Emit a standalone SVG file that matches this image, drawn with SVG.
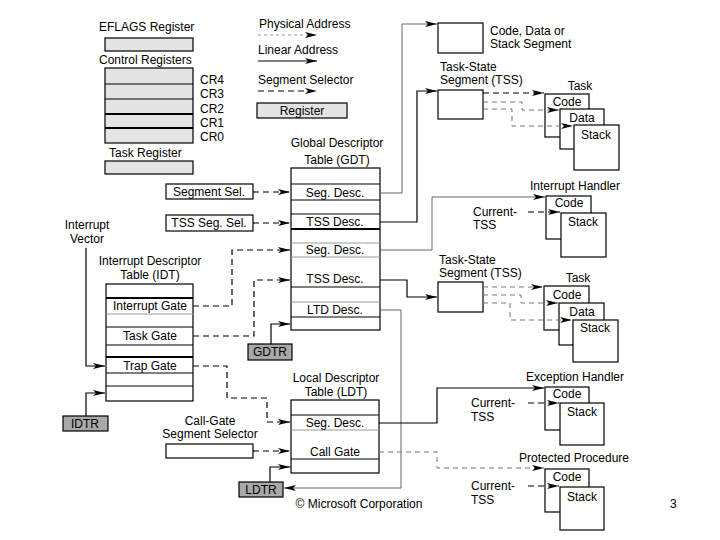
<svg xmlns="http://www.w3.org/2000/svg" width="720" height="540" viewBox="0 0 720 540">
<style>
text{font-family:"Liberation Sans",Arial,sans-serif;font-size:12px;fill:#000}
.c{text-anchor:middle}
.box{fill:#fff;stroke:#000;stroke-width:1.2}
.reg{fill:#e4e4e4;stroke:#000;stroke-width:1.2}
.dreg{fill:#a8a8a8;stroke:#000;stroke-width:1.2}
.ln{stroke:#000;stroke-width:1}
.gl{stroke:#999;stroke-width:1}
.thick{stroke:#000;stroke-width:2}
.cn{fill:none;stroke:#000;stroke-width:1.2;marker-end:url(#ah)}
.cg{fill:none;stroke:#666;stroke-width:1;marker-end:url(#ah)}
.ds{fill:none;stroke:#000;stroke-width:1.2;stroke-dasharray:6,4;marker-end:url(#ah)}
.dg{fill:none;stroke:#777;stroke-width:1;stroke-dasharray:5,4;marker-end:url(#ah)}
.dt{fill:none;stroke:#999;stroke-width:1;stroke-dasharray:3,3;marker-end:url(#ah)}
</style>
<defs>
<marker id="ah" viewBox="0 0 12 6" refX="12" refY="3" markerWidth="12" markerHeight="6" markerUnits="userSpaceOnUse" orient="auto">
<path d="M0,0 L12,3 L0,6 L3,3 Z" fill="#000"/>
</marker>
</defs>
<rect width="720" height="540" fill="#fff"/>

<g id="eflags">
<text x="99" y="31">EFLAGS Register</text>
<rect class="reg" x="105" y="38" width="88" height="13"/>
</g>
<g id="control-registers">
<text x="99" y="64">Control Registers</text>
<rect class="reg" x="105" y="68" width="88" height="75"/>
<line class="ln" x1="105" y1="84" x2="193" y2="84"/>
<line class="ln" x1="105" y1="99" x2="193" y2="99"/>
<line class="thick" x1="105" y1="114" x2="193" y2="114"/>
<line class="thick" x1="105" y1="128" x2="193" y2="128"/>
<text x="200" y="84">CR4</text>
<text x="200" y="98">CR3</text>
<text x="200" y="113">CR2</text>
<text x="200" y="127">CR1</text>
<text x="200" y="141">CR0</text>
</g>
<g id="task-register">
<text x="109" y="157">Task Register</text>
<rect class="reg" x="105" y="161" width="88" height="13"/>
</g>

<g id="legend">
<text x="259" y="28">Physical Address</text>
<text x="258" y="54">Linear Address</text>
<text x="258" y="84">Segment Selector</text>
<rect class="reg" x="257" y="103" width="90" height="15"/>
<text class="c" x="302" y="115">Register</text>
</g>

<g id="gdt">
<text class="c" x="337" y="147">Global Descriptor</text>
<text class="c" x="337" y="164">Table (GDT)</text>
<rect class="box" x="291" y="168" width="89" height="162"/>
<line class="ln" x1="291" y1="184" x2="380" y2="184"/>
<line class="ln" x1="291" y1="200" x2="380" y2="200"/>
<line class="ln" x1="291" y1="214" x2="380" y2="214"/>
<line class="thick" x1="291" y1="229" x2="380" y2="229"/>
<line class="gl" x1="291" y1="243" x2="380" y2="243"/>
<line class="gl" x1="291" y1="257" x2="380" y2="257"/>
<line class="ln" x1="291" y1="287" x2="380" y2="287"/>
<line class="gl" x1="291" y1="302" x2="380" y2="302"/>
<line class="ln" x1="291" y1="317" x2="380" y2="317"/>
<text class="c" x="335" y="197">Seg. Desc.</text>
<text class="c" x="335" y="226">TSS Desc.</text>
<text class="c" x="335" y="254">Seg. Desc.</text>
<text class="c" x="335" y="283">TSS Desc.</text>
<text class="c" x="335" y="314">LTD Desc.</text>
</g>

<g id="segment-sel">
<rect class="box" x="166" y="184" width="87" height="15"/>
<text class="c" x="209" y="196">Segment Sel.</text>
</g>
<g id="tss-seg-sel">
<rect class="box" x="166" y="215" width="87" height="16"/>
<text class="c" x="209" y="227">TSS Seg. Sel.</text>
</g>

<g id="interrupt-vector">
<text class="c" x="87" y="229">Interrupt</text>
<text class="c" x="87" y="243">Vector</text>
</g>

<g id="idt">
<text class="c" x="150" y="265">Interrupt Descriptor</text>
<text class="c" x="150" y="279">Table (IDT)</text>
<rect class="box" x="106" y="284" width="87" height="117"/>
<line class="thick" x1="106" y1="298" x2="193" y2="298"/>
<line class="gl" x1="106" y1="314" x2="193" y2="314"/>
<line class="ln" x1="106" y1="327" x2="193" y2="327"/>
<line class="ln" x1="106" y1="345" x2="193" y2="345"/>
<line class="thick" x1="106" y1="357" x2="193" y2="357"/>
<line class="ln" x1="106" y1="373" x2="193" y2="373"/>
<line class="ln" x1="106" y1="386" x2="193" y2="386"/>
<text class="c" x="150" y="310">Interrupt Gate</text>
<text class="c" x="150" y="340">Task Gate</text>
<text class="c" x="150" y="370">Trap Gate</text>
</g>

<g id="idtr">
<rect class="dreg" x="63" y="416" width="45" height="15"/>
<text class="c" x="85" y="428">IDTR</text>
</g>
<g id="gdtr">
<rect class="dreg" x="248" y="344" width="44" height="16"/>
<text class="c" x="270" y="356">GDTR</text>
</g>
<g id="ldtr">
<rect class="dreg" x="239" y="482" width="44" height="15"/>
<text class="c" x="261" y="494">LDTR</text>
</g>

<g id="call-gate-sel">
<text class="c" x="210" y="425">Call-Gate</text>
<text class="c" x="210" y="438">Segment Selector</text>
<rect class="box" x="166" y="444" width="87" height="14"/>
</g>

<g id="ldt">
<text class="c" x="336" y="382">Local Descriptor</text>
<text class="c" x="336" y="396">Table (LDT)</text>
<rect class="box" x="291" y="400" width="88" height="73"/>
<line class="ln" x1="291" y1="415" x2="379" y2="415"/>
<line class="gl" x1="291" y1="430" x2="379" y2="430"/>
<line class="ln" x1="291" y1="459" x2="379" y2="459"/>
<text class="c" x="335" y="427">Seg. Desc.</text>
<text class="c" x="335" y="456">Call Gate</text>
</g>

<g id="segment">
<rect class="box" x="438" y="23" width="45" height="30"/>
<text x="490" y="35">Code, Data or</text>
<text x="490" y="48">Stack Segment</text>
</g>

<g id="tss1">
<text x="440" y="71">Task-State</text>
<text x="440" y="84">Segment (TSS)</text>
<rect class="box" x="438" y="90" width="45" height="29"/>
</g>
<g id="task1">
<text class="c" x="580" y="90">Task</text>
<rect class="box" x="545" y="94" width="44" height="43"/>
<text class="c" x="567" y="106">Code</text>
<rect class="box" x="560" y="109" width="44" height="40"/>
<text class="c" x="582" y="122">Data</text>
<rect class="box" x="574" y="125" width="45" height="45"/>
<text class="c" x="596" y="139">Stack</text>
</g>

<g id="interrupt-handler">
<text class="c" x="575" y="190">Interrupt Handler</text>
<rect class="box" x="546" y="196" width="45" height="43"/>
<text class="c" x="569" y="207">Code</text>
<rect class="box" x="561" y="213" width="45" height="44"/>
<text class="c" x="583" y="226">Stack</text>
<text x="473" y="216">Current-</text>
<text x="473" y="229">TSS</text>
</g>

<g id="tss2">
<text x="439" y="264">Task-State</text>
<text x="439" y="277">Segment (TSS)</text>
<rect class="box" x="438" y="282" width="45" height="30"/>
</g>
<g id="task2">
<text class="c" x="578" y="282">Task</text>
<rect class="box" x="544" y="286" width="45" height="44"/>
<text class="c" x="567" y="299">Code</text>
<rect class="box" x="559" y="303" width="45" height="42"/>
<text class="c" x="582" y="316">Data</text>
<rect class="box" x="573" y="320" width="45" height="42"/>
<text class="c" x="595" y="332">Stack</text>
</g>

<g id="exception-handler">
<text class="c" x="575" y="381">Exception Handler</text>
<rect class="box" x="545" y="387" width="44" height="43"/>
<text class="c" x="567" y="398">Code</text>
<rect class="box" x="560" y="403" width="44" height="42"/>
<text class="c" x="582" y="416">Stack</text>
<text x="471" y="407">Current-</text>
<text x="471" y="421">TSS</text>
</g>

<g id="protected-procedure">
<text class="c" x="574" y="462">Protected Procedure</text>
<rect class="box" x="545" y="469" width="44" height="43"/>
<text class="c" x="567" y="481">Code</text>
<rect class="box" x="560" y="487" width="44" height="43"/>
<text class="c" x="582" y="501">Stack</text>
<text x="471" y="490">Current-</text>
<text x="471" y="504">TSS</text>
</g>

<g id="connectors">
<path class="dt" d="M258,35 H317"/>
<path class="cn" d="M258,61 H317"/>
<path class="ds" d="M258,91 H317"/>

<path class="cg" d="M380,193 H402 V24 H437"/>
<path class="cn" d="M380,222 H417 V91 H437"/>
<path class="cg" d="M380,250 H432 V197 H545"/>
<path class="cn" d="M380,280 H407 V297 H437"/>
<path class="cg" d="M380,310 H401 V488 H284"/>

<path class="ds" d="M253,192 H290"/>
<path class="ds" d="M253,223 H290"/>
<path class="ds" d="M193,306 H232 V250 H290"/>
<path class="ds" d="M193,336 H254 V280 H290"/>
<path class="cn" d="M271,344 V324 H290"/>
<path class="cn" d="M86,248 V366 H105"/>
<path class="cn" d="M86,416 V393 H105"/>
<path class="ds" d="M193,366 H227 V398 H267 V422 H290"/>
<path class="ds" d="M253,451 H290"/>
<path class="cn" d="M270,482 V467 H290"/>
<path class="cn" d="M379,423 H437 V388 H544"/>
<path class="dg" d="M379,452 H437 V468 H544"/>

<path class="ds" d="M483,93 H544"/>
<path class="dg" d="M483,102 H522 V110 H559"/>
<path class="dg" d="M483,109 H512 V126 H573"/>

<path class="ds" d="M528,212 H560"/>

<path class="dg" d="M483,287 H543"/>
<path class="dg" d="M483,295 H521 V303 H558"/>
<path class="dg" d="M483,303 H510 V320 H572"/>

<path class="ds" d="M528,403 H559"/>
<path class="ds" d="M528,486 H559"/>
</g>

<text class="c" x="359" y="508">© Microsoft Corporation</text>
<text x="670" y="508">3</text>
</svg>
